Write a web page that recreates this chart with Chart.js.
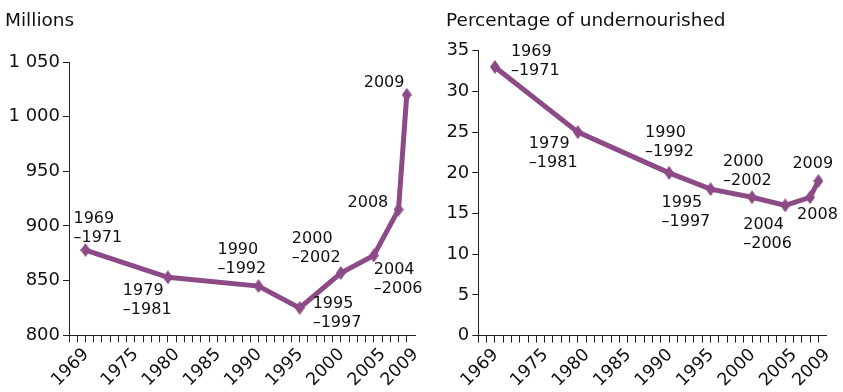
<!DOCTYPE html>
<html>
<head>
<meta charset="utf-8">
<script src="https://cdn.jsdelivr.net/npm/chart.js@4/dist/chart.umd.min.js"></script>
<style>
  html, body { margin: 0; padding: 0; background: #fff; }
  .wrap { position: relative; width: 843px; height: 392px; overflow: hidden; }
  #chart-millions { position: absolute; left: 5px; top: 0; }
  #chart-percent { position: absolute; left: 446px; top: 0; }
</style>
</head>
<body>
<div class="wrap">
  <canvas id="chart-millions" width="420" height="392"></canvas>
  <canvas id="chart-percent" width="397" height="392"></canvas>
</div>
<script>
// Undernourished people in the world, 1969-71 to 2009
const periodLabels = [
  ["1969", "\u20131971"],
  ["1979", "\u20131981"],
  ["1990", "\u20131992"],
  ["1995", "\u20131997"],
  ["2000", "\u20132002"],
  ["2004", "\u20132006"],
  ["2008"],
  ["2009"],
];
// mid-year of each period, used as x position
const periodYears = [1970, 1980, 1991, 1996, 2001, 2005, 2008, 2009];
const millions = [878, 853, 845, 825, 857, 873, 915, 1020];
const percentUndernourished = [33, 25, 20, 18, 17, 16, 17, 19];
const yearTickLabels = [1969, 1975, 1980, 1985, 1990, 1995, 2000, 2005, 2009];
const millionsTicks = [800, 850, 900, 950, 1000, 1050];
const percentTicks = [0, 5, 10, 15, 20, 25, 30, 35];

// where each period label sits relative to its point: [dx to text left, dy of first line]
const millionsLabelPos = [[-12, -31], [-45, 13], [-41, -36], [13, -4], [-49, -34], [0, 14], [-51, -7], [-43, -12]];
const percentLabelPos = [[16, -15], [-49, 12], [-24, -40], [-49, 14], [-29, -35], [-42, 19], [-13, 18], [-26, -17]];

const FONT = "'DejaVu Sans', Verdana, sans-serif";
const LINE_COLOR = "#8c4a86";
const AXIS_COLOR = "#222";

// thin upright diamond used as the point marker
function makeMarker() {
  const c = document.createElement("canvas");
  c.width = 10;
  c.height = 14;
  const ctx = c.getContext("2d");
  ctx.fillStyle = LINE_COLOR;
  ctx.beginPath();
  ctx.moveTo(5, 0);
  ctx.lineTo(10, 7);
  ctx.lineTo(5, 14);
  ctx.lineTo(0, 7);
  ctx.closePath();
  ctx.fill();
  return c;
}
const marker = makeMarker();

function formatThousands(v) {
  return String(v).replace(/\B(?=(\d{3})+$)/g, " ");
}

const periodLabelPlugin = {
  id: "periodLabels",
  afterDatasetsDraw(chart, args, opts) {
    const ctx = chart.ctx;
    const meta = chart.getDatasetMeta(0);
    ctx.save();
    ctx.font = "16px " + FONT;
    ctx.fillStyle = "#111";
    ctx.textAlign = "left";
    ctx.textBaseline = "middle";
    meta.data.forEach((pt, i) => {
      const [dx, dy] = opts.positions[i];
      periodLabels[i].forEach((line, j) => {
        ctx.fillText(line, pt.x + dx, pt.y + dy + j * 19);
      });
    });
    ctx.restore();
  },
};

function buildChart(id, cfg) {
  const xAxis = {
    type: "linear",
    min: 1968,
    max: 2010,
    afterBuildTicks: (s) => {
      const t = [];
      for (let y = 1968; y <= 2009; y++) t.push({ value: y });
      s.ticks = t;
    },
    afterFit: (s) => {
      s.paddingLeft = 0;
      s.paddingRight = 0;
      s.height = 392 - cfg.bottom;
    },
    grid: { drawOnChartArea: false, tickLength: 7, color: AXIS_COLOR, tickColor: AXIS_COLOR },
    border: { color: AXIS_COLOR, width: 1 },
    ticks: {
      autoSkip: false,
      maxRotation: 45,
      minRotation: 45,
      padding: 2,
      labelOffset: 9,
      color: "#111",
      font: { family: FONT, size: 17.5 },
      callback: (v) => (yearTickLabels.includes(v) ? String(v) : ""),
    },
  };

  const yAxis = {
    min: cfg.yTicks[0],
    max: cfg.yTicks[cfg.yTicks.length - 1],
    afterBuildTicks: (s) => {
      s.ticks = cfg.yTicks.map((v) => ({ value: v }));
    },
    afterFit: (s) => {
      s.width = cfg.axisWidth;
    },
    grid: { drawOnChartArea: false, tickLength: 6, color: AXIS_COLOR, tickColor: AXIS_COLOR },
    border: { color: AXIS_COLOR, width: 1 },
    ticks: {
      padding: 3,
      color: "#111",
      font: { family: FONT, size: 18 },
      callback: (v) => formatThousands(v),
    },
  };

  return new Chart(document.getElementById(id), {
    type: "line",
    data: {
      datasets: [
        {
          data: periodYears.map((x, i) => ({ x, y: cfg.values[i] })),
          borderColor: LINE_COLOR,
          borderWidth: 5,
          tension: 0,
          pointStyle: marker,
          pointRadius: 5,
          clip: false,
        },
      ],
    },
    options: {
      responsive: false,
      animation: false,
      events: [],
      layout: { padding: { left: 0, right: cfg.padRight, top: 0, bottom: 0 } },
      scales: { x: xAxis, y: yAxis },
      plugins: {
        legend: { display: false },
        tooltip: { enabled: false },
        title: {
          display: true,
          text: cfg.title,
          align: "start",
          color: "#111",
          font: { family: FONT, size: 18.5, weight: "normal" },
          padding: { top: 10, bottom: cfg.titleGap },
        },
        periodLabels: { positions: cfg.labelPos },
      },
    },
    plugins: [periodLabelPlugin],
  });
}

buildChart("chart-millions", {
  title: "Millions",
  values: millions,
  yTicks: millionsTicks,
  labelPos: millionsLabelPos,
  axisWidth: 64,
  padRight: 8.4,
  titleGap: 29.8,
  bottom: 335.3,
});

buildChart("chart-percent", {
  title: "Percentage of undernourished",
  values: percentUndernourished,
  yTicks: percentTicks,
  labelPos: percentLabelPos,
  axisWidth: 32.3,
  padRight: 16.3,
  titleGap: 18.5,
  bottom: 335.7,
});
</script>
</body>
</html>
